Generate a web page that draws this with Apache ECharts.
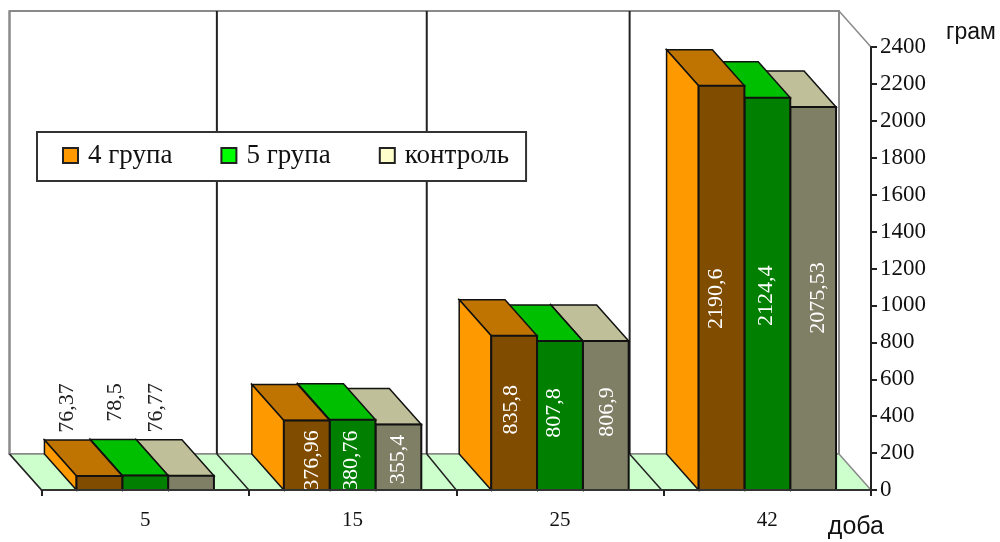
<!DOCTYPE html>
<html>
<head>
<meta charset="utf-8">
<style>html,body{margin:0;padding:0;background:#fff}#chart{width:1000px;height:542px}</style>
<script src="https://cdn.jsdelivr.net/npm/echarts@6/dist/echarts.min.js"></script>
</head>
<body>
<div id="chart"></div>
<script>
// Live weight by day of life, drawn as pseudo-3D columns.
const days = ['5', '15', '25', '42'];
const group4 = [76.37, 376.96, 835.8, 2190.6];
const group5 = [78.5, 380.76, 807.8, 2124.4];
const control = [76.77, 355.4, 806.9, 2075.53];
const seriesNames = ['4 група', '5 група', 'контроль'];

// Face colours of each column: side, top, front.
const faces = [
  ['#FF9900', '#BF7300', '#7F4C00'],
  ['#00FF00', '#00BF00', '#007F00'],
  ['#FFFFCC', '#BFBF99', '#7F7F66']
];
// Oblique projection of the depth axis, in pixels.
const DEPTH_X = -32, DEPTH_Y = -36;
const GROUP_SHARE = 0.663;
const FONT = '"Liberation Serif", serif';

// Label shift from the top centre of a column's front face.
const labelShift = [
  [[-32, -68], [5.5, 40], [-3, 74], [-5, 213]],
  [[-30, -73], [-1, 41], [-6, 72], [-1, 198]],
  [[-35, -68], [0, 35], [1, 71], [5, 191]]
];
// Small corrections to the divider positions on the back wall and the floor edge.
const dividerBackShift = [0, 2.5, -2];
const dividerFrontShift = [0, 0, -2];

function poly(points, fill, stroke, width) {
  return { type: 'polygon', shape: { points }, style: { fill, stroke, lineWidth: width } };
}
function seg(a, b, stroke, width) {
  return { type: 'line', shape: { x1: a[0], y1: a[1], x2: b[0], y2: b[1] }, style: { stroke, lineWidth: width } };
}

// Back wall, floor and the category dividers.
function renderRoom(params) {
  const g = params.coordSys;
  const L = g.x, R = g.x + g.width, T = g.y, B = g.y + g.height;
  const back = (x, y) => [x + DEPTH_X, y + DEPTH_Y];
  const grey = '#8a8a8a';
  const children = [
    poly([back(L, T), back(R, T), back(R, B), back(L, B)], '#fff', grey, 2),
    poly([back(L, B), back(R, B), [R, B], [L, B]], '#CCFFCC', grey, 1.5),
    seg(back(R, T), [R, T], grey, 1.5),
    seg(back(L, T), back(L, B), grey, 2),
    seg(back(L, B), [L, B], '#222', 1.5)
  ];
  const band = g.width / days.length;
  for (let i = 1; i < days.length; i++) {
    const x = L + band * i;
    const xb = x + dividerBackShift[i - 1], xf = x + dividerFrontShift[i - 1];
    children.push(seg(back(xb, T), back(xb, B), '#222', 2));
    children.push(seg(back(xb, B), [xf, B], '#222', 1.5));
  }
  return { type: 'group', children };
}

function columnRenderer(k, values) {
  return function (params, api) {
    const i = api.value(0), v = api.value(1);
    const base = api.coord([i, 0]);
    const top = api.coord([i, v]);
    const groupWidth = api.size([1, 0])[0] * GROUP_SHARE;
    const w = groupWidth / 3;
    const x0 = base[0] - groupWidth / 2 + k * w, x1 = x0 + w;
    const yT = top[1], yB = base[1];
    const c = faces[k];
    const line = '#111';
    const shift = labelShift[k][i];
    const inside = values[i] > 100;
    return {
      type: 'group',
      children: [
        poly([[x0, yT], [x1, yT], [x1 + DEPTH_X, yT + DEPTH_Y], [x0 + DEPTH_X, yT + DEPTH_Y]], c[1], line, 1.5),
        poly([[x0, yT], [x0 + DEPTH_X, yT + DEPTH_Y], [x0 + DEPTH_X, yB + DEPTH_Y], [x0, yB]], c[0], line, 1.5),
        poly([[x0, yT], [x1, yT], [x1, yB], [x0, yB]], c[2], line, 2),
        {
          type: 'text',
          x: (x0 + x1) / 2 + shift[0],
          y: yT + shift[1],
          rotation: Math.PI / 2,
          z2: 10,
          style: {
            text: String(values[i]).replace('.', ','),
            align: 'center',
            verticalAlign: 'middle',
            fill: inside ? '#fff' : '#222',
            font: '22px ' + FONT
          }
        }
      ]
    };
  };
}

const rows = values => values.map((v, i) => [i, v]);
const columnSeries = [group4, group5, control].map((values, k) => ({
  name: seriesNames[k],
  type: 'custom',
  z: 5 - k,
  silent: true,
  itemStyle: { color: faces[k][0] },
  encode: { x: 0, y: 1 },
  data: rows(values),
  renderItem: columnRenderer(k, values)
}));

const chart = echarts.init(document.getElementById('chart'), null, { renderer: 'canvas' });
chart.setOption({
  animation: false,
  backgroundColor: '#fff',
  grid: { left: 41.5, right: 129, top: 47, bottom: 52, containLabel: false },
  legend: {
    data: seriesNames,
    left: 37,
    top: 132,
    orient: 'horizontal',
    padding: [10, 17, 12, 25],
    itemGap: 48,
    itemWidth: 15,
    itemHeight: 15,
    icon: 'rect',
    itemStyle: { borderColor: '#222', borderWidth: 2 },
    backgroundColor: '#fff',
    borderColor: '#333',
    borderWidth: 2,
    borderRadius: 0,
    textStyle: { fontFamily: FONT, fontSize: 27, color: '#111', padding: [0, 0, 0, 5] },
    selectedMode: false
  },
  xAxis: {
    type: 'category',
    data: days,
    z: 6,
    name: 'доба',
    nameLocation: 'end',
    nameGap: 13,
    nameMoveOverlap: false,
    nameTextStyle: { fontFamily: '"Liberation Sans", sans-serif', fontSize: 25, color: '#111', align: 'right', verticalAlign: 'top', padding: [25, 0, 0, 0] },
    axisLine: { lineStyle: { color: '#333', width: 2 } },
    axisTick: { show: true, length: 6, alignWithLabel: false, lineStyle: { color: '#222', width: 2 } },
    axisLabel: { fontFamily: FONT, fontSize: 21, color: '#111', margin: 20 },
    splitLine: { show: false }
  },
  yAxis: {
    type: 'value',
    position: 'right',
    min: 0,
    max: 2400,
    interval: 200,
    z: 6,
    name: 'грам',
    nameLocation: 'end',
    nameGap: 3,
    nameMoveOverlap: false,
    nameTextStyle: { fontFamily: '"Liberation Sans", sans-serif', fontSize: 23, color: '#111', align: 'left', padding: [0, 0, 0, 75] },
    axisLine: { show: true, lineStyle: { color: '#222', width: 2 } },
    axisTick: { show: true, length: 6, lineStyle: { color: '#222', width: 2 } },
    axisLabel: { fontFamily: FONT, fontSize: 23, color: '#111', margin: 9, formatter: v => String(v) },
    splitLine: { show: false }
  },
  series: [
    {
      type: 'custom',
      name: 'room',
      z: 1,
      silent: true,
      encode: { x: 0, y: 1 },
      data: [[0, 0]],
      renderItem: renderRoom
    }
  ].concat(columnSeries)
});
</script>
</body>
</html>
